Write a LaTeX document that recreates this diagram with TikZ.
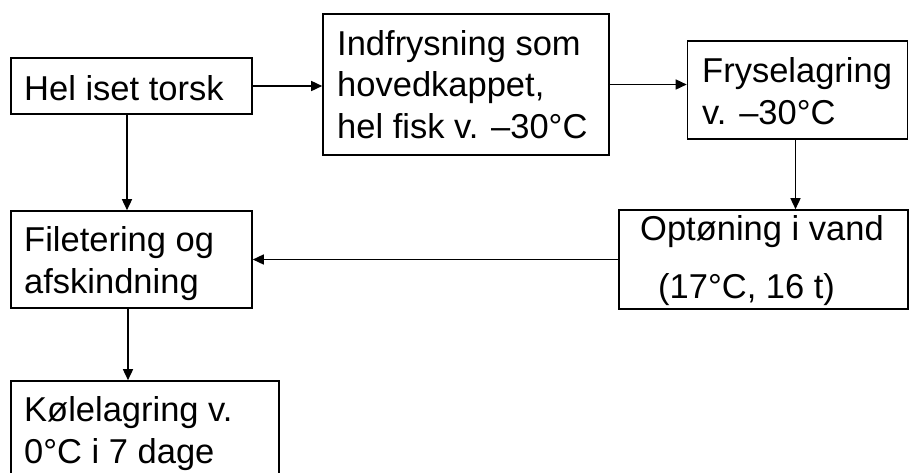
\documentclass[tikz,border=0pt]{standalone}
\usepackage{fontspec}
\setmainfont{Liberation Sans}
\usetikzlibrary{arrows.meta}
\begin{document}
\begin{tikzpicture}[x=1pt,y=-1pt,
  box/.style={draw,line width=1.6pt,rectangle,inner sep=0pt},
  lbl/.style={anchor=base west,inner sep=0pt,align=left,font=\fontsize{34.5}{41.5}\selectfont},
  conn/.style={line width=1.5pt,-{Triangle[length=11pt,width=10pt]}}]
\useasboundingbox (0,0) rectangle (909,472);
% boxes
\node[box,minimum width=241pt,minimum height=56pt] (A) at (131.5,86) {};
\node[box,minimum width=286pt,minimum height=141pt] (B) at (466,84.5) {};
\node[box,minimum width=220pt,minimum height=98pt] (C) at (797.5,90) {};
\node[box,minimum width=289pt,minimum height=99pt] (D) at (763.5,259.5) {};
\node[box,minimum width=241pt,minimum height=97pt] (E) at (131.5,259.5) {};
\node[box,minimum width=268pt,minimum height=96pt] (F) at (145,429) {};
% texts (anchor = baseline of last line)
\node[lbl] (tA) at (24,100) {Hel iset torsk};
\node[lbl] (tB) at (337,138) {Indfrysning som\\hovedkappet,\\hel fisk v. –30°C};
\node[lbl] (tC) at (702,124) {Fryselagring\\v. –30°C};
\node[lbl] (tD) at (640,298) {Optøning i vand\\[16.5pt]\hspace*{18pt}(17°C, 16 t)};
\node[lbl] (tE) at (24,293) {Filetering og\\afskindning};
\node[lbl] (tF) at (24,463) {Kølelagring v.\\0°C i 7 dage};
% connectors
\draw[conn] (A.east) -- (A.east -| B.west);
\draw[conn] (B.east) -- (B.east -| C.west);
\draw[conn] ([xshift=-2pt]C.south) -- ([xshift=-2pt]C.south |- D.north);
\draw[conn] (D.west) -- (D.west -| E.east);
\draw[conn] ([xshift=-4.5pt]A.south) -- ([xshift=-4.5pt]A.south |- E.north);
\draw[conn] ([xshift=-3.5pt]E.south) -- ([xshift=-3.5pt]E.south |- F.north);
\end{tikzpicture}
\end{document}
